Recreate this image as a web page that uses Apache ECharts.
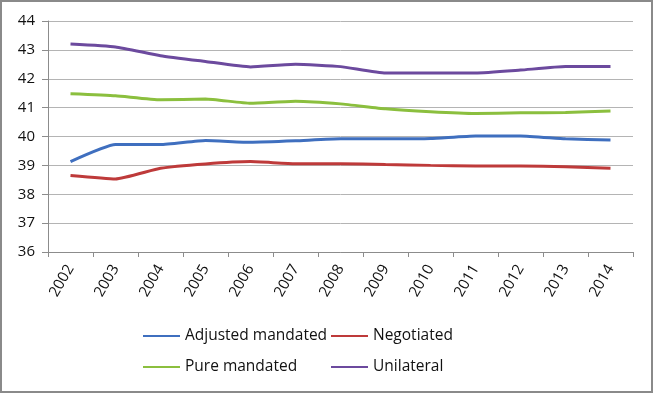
<!DOCTYPE html>
<html><head><meta charset="utf-8">
<script src="https://cdn.jsdelivr.net/npm/echarts@6/dist/echarts.min.js"></script>
<style>
html,body{margin:0;padding:0;background:#fff;}
#c{width:653px;height:393px;box-sizing:border-box;border:2px solid #8a8a8a;}
</style></head>
<body><div id="c"></div>
<script>
const years = ['2002','2003','2004','2005','2006','2007','2008','2009','2010','2011','2012','2013','2014'];
const adjustedMandated = [39.13,39.72,39.72,39.86,39.8,39.85,39.92,39.92,39.93,40.02,40.02,39.92,39.88];
const negotiated = [38.65,38.53,38.9,39.05,39.13,39.06,39.06,39.03,39.0,38.98,38.98,38.95,38.9];
const pureMandated = [41.48,41.41,41.27,41.3,41.15,41.22,41.13,40.96,40.86,40.8,40.82,40.83,40.88];
const unilateral = [43.2,43.1,42.8,42.6,42.41,42.5,42.42,42.2,42.2,42.2,42.3,42.42,42.42];
const yTicks = [36,37,38,39,40,41,42,43,44];

const names = ['Adjusted mandated','Negotiated','Pure mandated','Unilateral'];
const realColors = ['#3f6fbf','#be3a3a','#8bbf3e','#6c4a9e'];
const datas = [adjustedMandated, negotiated, pureMandated, unilateral];

const chart = echarts.init(document.getElementById('c'));
const legendPos = [[136,321],[324,321],[136,352],[324,352]];
chart.setOption({
  animation:false,
  textStyle:{fontFamily:'Open Sans'},
  grid:{left:46,right:18,top:19,bottom:139,containLabel:false},
  xAxis:{type:'category',data:years,boundaryGap:true,
    axisLine:{lineStyle:{color:'#8c8c8c',width:1}},
    axisTick:{show:true,length:5,lineStyle:{color:'#8c8c8c'}},
    axisLabel:{rotate:60,color:'#111',fontSize:15,margin:14,fontFamily:'Open Sans'}},
  yAxis:{type:'value',min:yTicks[0],max:yTicks[yTicks.length-1],interval:1,
    axisLine:{show:true,lineStyle:{color:'#8c8c8c'}},
    axisTick:{show:true,length:6,lineStyle:{color:'#8c8c8c'}},
    axisLabel:{color:'#111',fontSize:15,margin:13,fontFamily:'Open Sans'},
    splitLine:{lineStyle:{color:'#b4b4b4',width:1}}},
  legend: names.map((n,i)=>({data:[n],left:legendPos[i][0],top:legendPos[i][1],
    itemWidth:37,itemHeight:10,itemGap:4,icon:'path://M0,4 L37,4 L37,6 L0,6 Z',
    textStyle:{fontSize:15.5,color:'#111',fontFamily:'Open Sans'}})),
  series: names.map((n,i)=>({name:n,type:'line',data:datas[i],showSymbol:false,symbol:'none',
    smooth:0.15,lineStyle:{color:realColors[i],width:3},itemStyle:{color:realColors[i]}}))
});
</script></body></html>
